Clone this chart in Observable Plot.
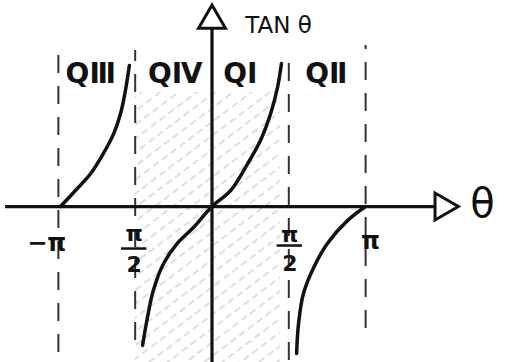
<!DOCTYPE html>
<html>
<head>
<meta charset="utf-8">
<script src="https://cdn.jsdelivr.net/npm/d3@7"></script>
<script src="https://cdn.jsdelivr.net/npm/@observablehq/plot@0.6"></script>
<style>
  html, body { margin: 0; padding: 0; background: #fff; }
  svg { display: block; }
</style>
</head>
<body>
<div id="chart"></div>
<script>
const PI = Math.PI;

// Curve branches: [theta (rad), tan value in sketch units]
const branchQIII = [[-3.10, 0], [-2.83, 0.47], [-2.48, 1.1], [-2.22, 1.77], [-2.01, 2.43], [-1.87, 3.1], [-1.77, 3.87], [-1.69, 4.7]];
const branchCenter = [[-1.42, -4.63], [-1.32, -3.7], [-1.20, -2.8], [-0.99, -1.9], [-0.71, -1.23], [-0.38, -0.7], [0, 0], [0.38, 0.53], [0.73, 1.43], [0.99, 2.2], [1.20, 3.1], [1.34, 3.97], [1.42, 4.77]];
const branchQII = [[1.73, -4.9], [1.77, -3.9], [1.87, -2.9], [2.08, -2.03], [2.36, -1.23], [2.77, -0.47], [3.14, 0]];

// Dashed asymptote / boundary lines
const dashX = [-PI, -PI / 2, PI / 2, PI];
const dashTop = [5.2, 5.2, 4.8, 5.37];
const dashBottom = [-4.87, -4.47, -5.13, -4.07];

// Quadrant labels
const quadLabels = ["QⅢ", "QⅣ", "QⅠ", "QⅡ"];
const quadX = [-2.48, -0.75, 0.58, 2.34];
const quadY = 4.43;

// Tick labels on the θ axis
const wholeLabels = ["−π", "π"];
const wholeX = [-3.38, 3.24];
const wholeY = [-1.23, -1.17];
const fracNum = ["π", "π"];
const fracDen = ["2", "2"];
const fracX = [-PI / 2 - 0.02, PI / 2 + 0.02];
const fracNumY = [-0.9, -0.95];
const fracBarY = [-1.4, -1.3];
const fracDenY = [-1.95, -1.9];

// Shaded region (QIV + QI)
const shade = [{x1: -PI / 2, x2: 1.4, y1: -5.2, y2: 3.8}];

// Axes
const xAxisLine = [{x1: -4.22, x2: 4.72, y: 0}];
const yAxisLine = [{x: 0, y1: -5.2, y2: 6.2}];
const axisLabels = [{text: "TAN θ", x: 0.68, y: 6.03}];
const thetaLabel = [{text: "θ", x: 5.53, y: 0.07}];

const toObj = arr => arr.map(([x, y]) => ({x, y}));
const dashes = dashX.map((x, i) => ({x, y1: dashBottom[i], y2: dashTop[i]}));
const quads = quadLabels.map((t, i) => ({t, x: quadX[i], y: quadY}));
const wholes = wholeLabels.map((t, i) => ({t, x: wholeX[i], y: wholeY[i]}));
const nums = fracNum.map((t, i) => ({t, x: fracX[i], y: fracNumY[i]}));
const dens = fracDen.map((t, i) => ({t, x: fracX[i], y: fracDenY[i]}));
const bars = fracX.map((x, i) => ({x1: x - 0.26, x2: x + 0.26, y: fracBarY[i]}));

const ink = "#111";
const font = "DejaVu Sans";

const chart = Plot.plot({
  width: 505,
  height: 362,
  margin: 0,
  style: {background: "#fff", fontFamily: font},
  x: {domain: [-4.325, 6.002], axis: null},
  y: {domain: [-5.2, 6.87], axis: null},
  marks: [
    Plot.rect(shade, {x1: "x1", x2: "x2", y1: "y1", y2: "y2", fill: "url(#hatch)"}),
    Plot.ruleX(dashes, {x: "x", y1: "y1", y2: "y2", stroke: "#333", strokeWidth: 2, strokeDasharray: "18,13"}),
    Plot.ruleY(xAxisLine, {y: "y", x1: "x1", x2: "x2", stroke: ink, strokeWidth: 3.2}),
    Plot.ruleX(yAxisLine, {x: "x", y1: "y1", y2: "y2", stroke: ink, strokeWidth: 3.2}),
    Plot.dot([{x: 4.72, y: 0}], {x: "x", y: "y", symbol: "triangle", r: 10, rotate: 90, fill: "#fff", stroke: ink, strokeWidth: 3}),
    Plot.dot([{x: 0, y: 6.2}], {x: "x", y: "y", symbol: "triangle", r: 10, fill: "#fff", stroke: ink, strokeWidth: 3}),
    Plot.line(toObj(branchQIII), {x: "x", y: "y", stroke: ink, strokeWidth: 3.5, curve: "catmull-rom"}),
    Plot.line(toObj(branchCenter), {x: "x", y: "y", stroke: ink, strokeWidth: 3.5, curve: "catmull-rom"}),
    Plot.line(toObj(branchQII), {x: "x", y: "y", stroke: ink, strokeWidth: 3.5, curve: "catmull-rom"}),
    Plot.text(quads, {x: "x", y: "y", text: "t", fontSize: 28, fontWeight: "bold", fill: ink, fontFamily: font}),
    Plot.text(wholes, {x: "x", y: "y", text: "t", fontSize: 24, fill: ink, fontFamily: font, fontWeight: "bold"}),
    Plot.text(nums, {x: "x", y: "y", text: "t", fontSize: 22, fill: ink, fontFamily: font, fontWeight: "bold"}),
    Plot.ruleY(bars, {y: "y", x1: "x1", x2: "x2", stroke: ink, strokeWidth: 2.5}),
    Plot.text(dens, {x: "x", y: "y", text: "t", fontSize: 22, fill: ink, fontFamily: font, fontWeight: "bold"}),
    Plot.text(axisLabels, {x: "x", y: "y", text: "text", fontSize: 23, textAnchor: "start", fill: ink, fontFamily: font}),
    Plot.text(thetaLabel, {x: "x", y: "y", text: "text", fontSize: 40, fill: ink, fontFamily: font})
  ]
});

// hatch pattern for the shaded region
const ns = "http://www.w3.org/2000/svg";
const defs = document.createElementNS(ns, "defs");
const pat = document.createElementNS(ns, "pattern");
pat.setAttribute("id", "hatch");
pat.setAttribute("patternUnits", "userSpaceOnUse");
pat.setAttribute("width", "11");
pat.setAttribute("height", "11");
pat.setAttribute("patternTransform", "rotate(-37)");
const ln = document.createElementNS(ns, "line");
ln.setAttribute("x1", "0"); ln.setAttribute("y1", "5");
ln.setAttribute("x2", "11"); ln.setAttribute("y2", "5");
ln.setAttribute("stroke", "#bdbdbd");
ln.setAttribute("stroke-width", "1");
ln.setAttribute("stroke-dasharray", "7,4");
pat.appendChild(ln);
defs.appendChild(pat);
chart.insertBefore(defs, chart.firstChild);

document.getElementById("chart").appendChild(chart);
</script>
</body>
</html>
